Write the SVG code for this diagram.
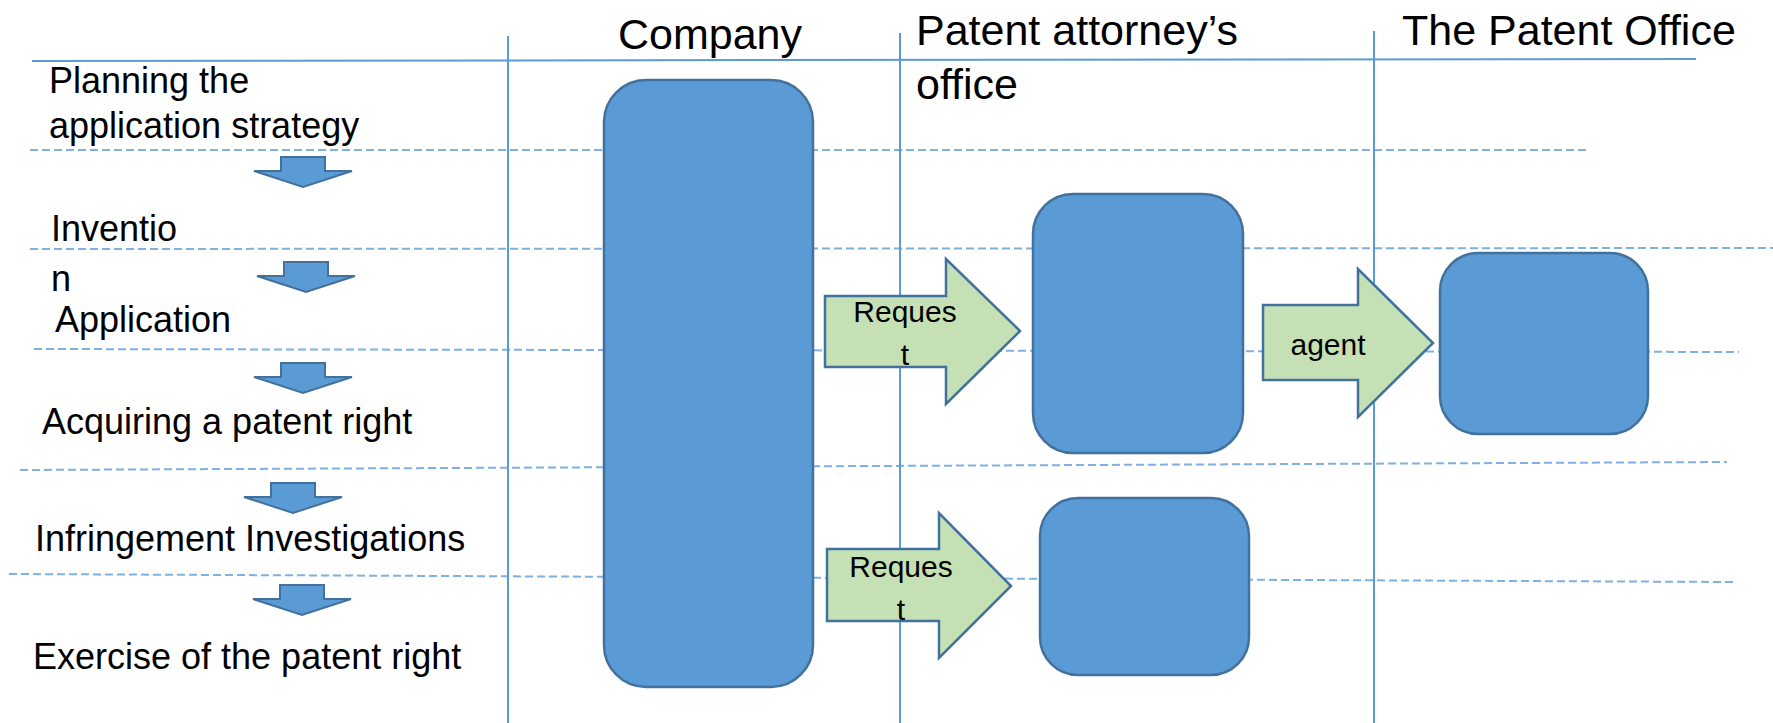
<svg xmlns="http://www.w3.org/2000/svg" width="1773" height="723" viewBox="0 0 1773 723">
  <style>
    .lane { stroke: #5b9bd5; stroke-width: 2; fill: none; }
    .grid { stroke: #7eb0e2; stroke-width: 2; stroke-dasharray: 8 4; fill: none; }
    .box { fill: #5b9bd5; stroke: #41719c; stroke-width: 2.5; }
    .flow { fill: #c5e0b4; stroke: #41719c; stroke-width: 2.5; stroke-linejoin: miter; }
    .step { fill: #5b9bd5; stroke: #41719c; stroke-width: 2; }
    text { font-family: "Liberation Sans", Arial, sans-serif; fill: #000; }
    .head { font-size: 43px; }
    .label { font-size: 36px; }
    .small { font-size: 30px; text-anchor: middle; }
  </style>
  <defs>
    <!-- down-pointing block arrow between process steps -->
    <path id="down" d="M -22 0 H 22 V 14 H 49 L 0 30 L -49 14 H -22 Z"/>
  </defs>
  <rect width="1773" height="723" fill="#fff"/>

  <!-- dashed row separators -->
  <g id="rows">
    <line class="grid" x1="30" y1="150" x2="1587" y2="150"/>
    <line class="grid" x1="30" y1="249" x2="1773" y2="248"/>
    <line class="grid" x1="34" y1="349" x2="1739" y2="352"/>
    <line class="grid" x1="20" y1="470" x2="1727" y2="462"/>
    <line class="grid" x1="9" y1="574" x2="1733" y2="582"/>
  </g>

  <!-- lane headers and dividers -->
  <g id="lanes">
    <line class="lane" x1="32" y1="61" x2="1696" y2="59"/>
    <line class="lane" x1="508" y1="36" x2="508" y2="723"/>
    <line class="lane" x1="900" y1="33" x2="900" y2="723"/>
    <line class="lane" x1="1374" y1="31" x2="1374" y2="723"/>
    <text class="head" x="618" y="49">Company</text>
    <text class="head" x="916" y="45">Patent attorney’s</text>
    <text class="head" x="916" y="99">office</text>
    <text class="head" x="1402" y="45">The Patent Office</text>
  </g>

  <!-- process steps -->
  <g id="steps">
    <text class="label" x="49" y="93">Planning the</text>
    <text class="label" x="49" y="138">application strategy</text>
    <text class="label" x="51" y="241">Inventio</text>
    <text class="label" x="51" y="291">n</text>
    <text class="label" x="55" y="332">Application</text>
    <text class="label" x="42" y="434">Acquiring a patent right</text>
    <text class="label" x="35" y="551">Infringement Investigations</text>
    <text class="label" x="33" y="669">Exercise of the patent right</text>
  </g>

  <g id="company">
    <rect class="box" x="604" y="80" width="209" height="607" rx="42" ry="42"/>
  </g>
  <g id="attorney-application">
    <rect class="box" x="1033" y="194" width="210" height="259" rx="40" ry="40"/>
  </g>
  <g id="attorney-investigation">
    <rect class="box" x="1040" y="498" width="209" height="177" rx="38" ry="38"/>
  </g>
  <g id="patent-office">
    <rect class="box" x="1440" y="253" width="208" height="181" rx="38" ry="38"/>
  </g>

  <g id="connectors">
    <use href="#down" class="step" x="303" y="157"/>
    <use href="#down" class="step" x="306" y="262"/>
    <use href="#down" class="step" x="303" y="363"/>
    <use href="#down" class="step" x="293" y="483"/>
    <use href="#down" class="step" x="302" y="585"/>

    <path class="flow" d="M 825 296 H 946 V 259 L 1020 331 L 946 404 V 367 H 825 Z"/>
    <path class="flow" d="M 1263 305 H 1358 V 269 L 1433 343 L 1358 417 V 380 H 1263 Z"/>
    <path class="flow" d="M 827 549 H 939 V 513 L 1011 586 L 939 658 V 621 H 827 Z"/>

    <text class="small" x="905" y="322">Reques</text>
    <text class="small" x="905" y="365">t</text>
    <text class="small" x="1328" y="355">agent</text>
    <text class="small" x="901" y="577">Reques</text>
    <text class="small" x="901" y="620">t</text>
  </g>
</svg>
